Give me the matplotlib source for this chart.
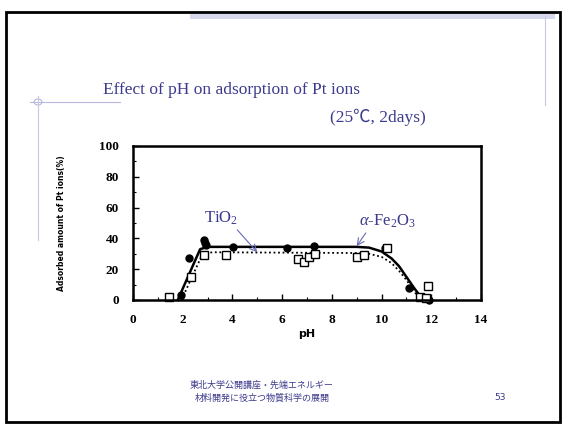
import numpy as np
import matplotlib.pyplot as plt
from matplotlib.patches import Rectangle, Circle
from matplotlib.lines import Line2D

# measured points (pH, adsorption %)
fe_ph = [1.92, 2.25, 2.86, 2.9, 2.95, 4.02, 6.2, 7.3, 10.14, 11.1, 11.9]
fe_ads = [3.3, 27, 39, 37, 35.5, 34.7, 34, 35, 34, 7.8, 0]
ti_ph = [1.45, 2.35, 2.86, 3.75, 6.65, 6.88, 7.08, 7.32, 9.02, 9.29, 10.23, 11.53, 11.8, 11.88]
ti_ads = [1.7, 15, 29, 29, 26.7, 24.5, 27.8, 29.7, 27.8, 29, 33.6, 2, 1.5, 9]

# fitted curves
fe_fit_ph = [1.8, 2.7, 3.0, 9.0, 9.5, 10.0, 10.4, 10.7, 11.0, 11.3, 11.6, 11.75]
fe_fit_ads = [0, 33, 34.5, 34.5, 34, 31.5, 27, 22, 15, 8, 1.5, 0]
ti_fit_ph = [1.95, 2.8, 3.2, 9.0, 9.5, 10.0, 10.4, 10.7, 11.0, 11.3, 11.55]
ti_fit_ads = [0, 30, 31, 30.5, 30, 28, 24, 19, 13, 6, 0]

xticks = [0, 2, 4, 6, 8, 10, 12, 14]
yticks = [0, 20, 40, 60, 80, 100]

blue = '#3c3a8c'
serif = 'Liberation Serif'

plt.rcParams['mathtext.fontset'] = 'custom'
plt.rcParams['mathtext.rm'] = serif
plt.rcParams['mathtext.it'] = serif + ':italic'

fig = plt.figure(figsize=(5.66, 4.24), dpi=100)
fig.patch.set_facecolor('white')

# slide frame and decorations
fig.add_artist(Rectangle((6/566, 2/424), 554/566, 410/424, transform=fig.transFigure,
                         fill=False, edgecolor='black', linewidth=2))
fig.add_artist(Rectangle((190/566, 1 - 19/424), 365/566, 5/424, transform=fig.transFigure,
                         facecolor='#d8d8ec', edgecolor='none'))
fig.add_artist(Line2D([545/566, 545/566], [1 - 16/424, 1 - 105/424], transform=fig.transFigure,
                      color='#c8c8e4', linewidth=0.8))
fig.add_artist(Line2D([30/566, 120/566], [1 - 102/424, 1 - 102/424], transform=fig.transFigure,
                      color='#b8b8dc', linewidth=0.8))
fig.add_artist(Line2D([38/566, 38/566], [1 - 96/424, 1 - 240/424], transform=fig.transFigure,
                      color='#c8c8e4', linewidth=0.8))
fig.add_artist(Circle((38/566, 1 - 102/424), 4/566, transform=fig.transFigure,
                      fill=False, edgecolor='#b8b8dc', linewidth=0.8))

fig.text(103/566, 1 - 90/424, 'Effect of pH on adsorption of Pt ions', fontsize=12.5,
         family=serif, color=blue, va='center')
fig.text(330/566, 1 - 117/424, '(25\u2103, 2days)', fontsize=12.5,
         family=[serif, 'Noto Sans CJK JP'], color=blue, va='center')

fig.text(262/566, 1 - 385/424, '東北大学公開講座・先端エネルギー', fontsize=6.5,
         family='Noto Sans CJK JP', color=blue, ha='center', va='center')
fig.text(262/566, 1 - 398/424, '材料開発に役立つ物質科学の展開', fontsize=6.5,
         family='Noto Sans CJK JP', color=blue, ha='center', va='center')
fig.text(500/566, 1 - 398/424, '53', fontsize=6.5, color=blue, ha='center', va='center')

ax = fig.add_axes([133/566, 124/424, 348/566, 154/424])
ax.plot(fe_fit_ph, fe_fit_ads, color='black', linewidth=1.8, clip_on=False)
ax.plot(ti_fit_ph, ti_fit_ads, color='black', linewidth=1.3, linestyle=(0, (1, 1.5)), clip_on=False)
ax.plot(fe_ph, fe_ads, 'o', color='black', markersize=5, clip_on=False)
ax.plot(ti_ph, ti_ads, 's', markerfacecolor='white', markeredgecolor='black',
        markersize=6, markeredgewidth=1, clip_on=False)

ax.set_xlim(0, 14)
ax.set_ylim(0, 100)
ax.set_xticks(xticks)
ax.set_yticks(yticks)
ax.set_xticks(np.arange(0, 15, 1), minor=True)
ax.set_yticks(np.arange(0, 101, 10), minor=True)
ax.tick_params(direction='in', length=4, width=1, labelsize=9.5, pad=10)
ax.tick_params(which='minor', direction='in', length=2, width=0.8)
for lab in ax.get_xticklabels() + ax.get_yticklabels():
    lab.set_fontweight('bold')
    lab.set_family(serif)
for sp in ax.spines.values():
    sp.set_linewidth(1.8)

ax.set_xlabel('pH', fontsize=8, fontweight='bold', labelpad=2)
ax.set_ylabel('Adsorbed amount of Pt ions(%)', fontsize=5.5, fontweight='bold', labelpad=24)

ax.annotate('TiO$_2$', xy=(5.0, 31), xytext=(2.86, 53), fontsize=12, family=serif,
            color=blue, va='center',
            arrowprops=dict(arrowstyle='->', color='#6a6ab8', linewidth=0.8,
                            shrinkA=0, shrinkB=0, relpos=(0.9, 0)))
ax.annotate(r'$\alpha$-Fe$_2$O$_3$', xy=(9.0, 35), xytext=(9.1, 51), fontsize=12, family=serif,
            color=blue, va='center',
            arrowprops=dict(arrowstyle='->', color='#6a6ab8', linewidth=0.8,
                            shrinkA=0, shrinkB=0, relpos=(0.15, 0)))

fig.savefig('out.png', dpi=100)
